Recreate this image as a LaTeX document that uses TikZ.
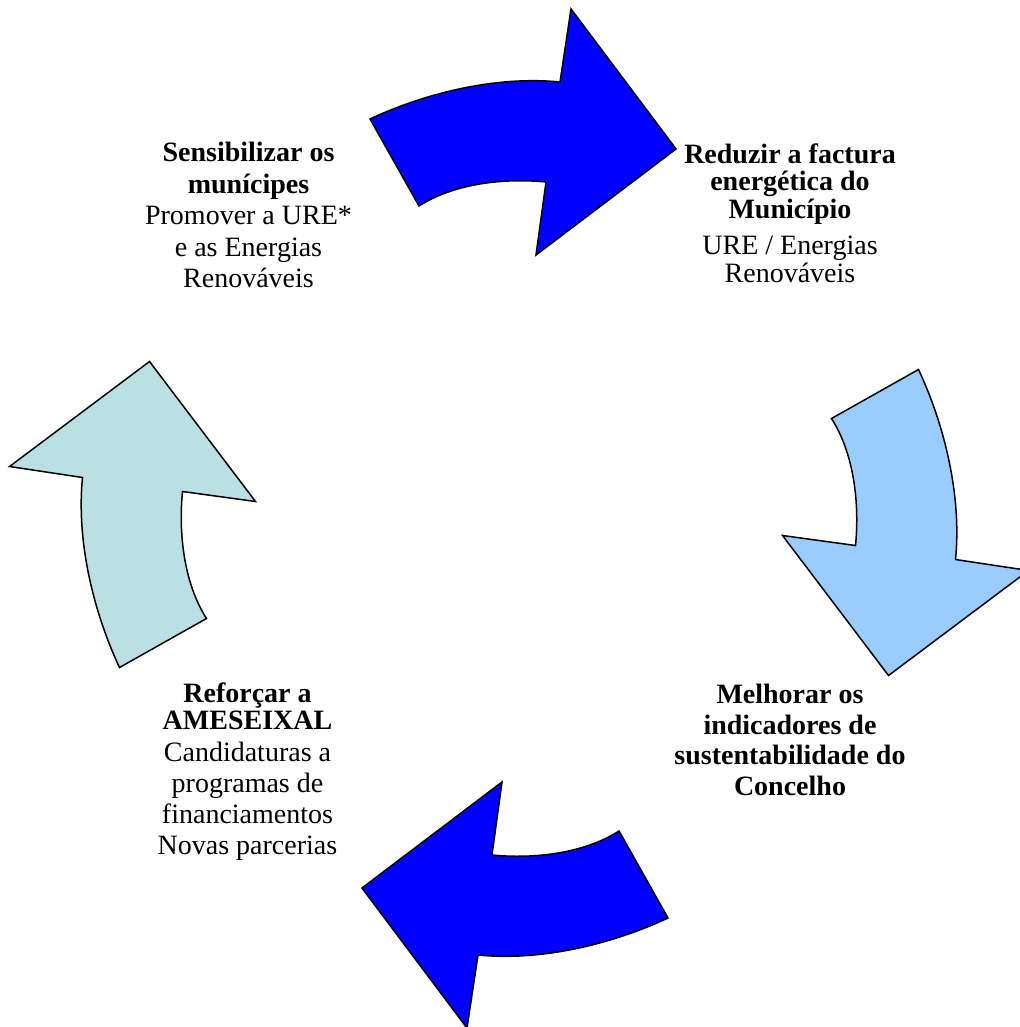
\documentclass[tikz,border=0pt]{standalone}
\usepackage{fontspec}
\setmainfont{Liberation Serif}
\definecolor{arrowblue}{RGB}{0,0,255}
\definecolor{arrowlight}{RGB}{153,204,255}
\definecolor{arrowpale}{RGB}{187,224,227}
\newcommand{\cyclearrow}[1]{\draw[arrowshape,fill=#1] (370,119) .. controls (430,91) and (500,76) .. (560,82) -- (571,9) -- (676,149) -- (536,255) -- (546,182) .. controls (505,178) and (455,183) .. (419,206) -- cycle;}
\tikzset{
  arrowshape/.style={draw=black,line width=0.75pt,line join=miter},
  label/.style={align=center,inner sep=0pt,anchor=north},
}
\begin{document}
\begin{tikzpicture}[x=0.5pt,y=-0.5pt]
\useasboundingbox (0,0) rectangle (1020,1027);
\begin{scope}
\cyclearrow{arrowblue}
\end{scope}
\begin{scope}[rotate around={-90:(519,518.5)}]
\cyclearrow{arrowlight}
\end{scope}
\begin{scope}[rotate around={180:(519,518.5)}]
\cyclearrow{arrowblue}
\end{scope}
\begin{scope}[rotate around={90:(519,518.5)}]
\cyclearrow{arrowpale}
\end{scope}
\node[label,font=\fontsize{14}{15.75}\selectfont] (t1) at (248.5,142) {\textbf{Sensibilizar os}\\\textbf{munícipes}\\Promover a URE*\\e as Energias\\Renováveis};
\node[label,font=\fontsize{14}{13.75}\selectfont] (t2) at (790,143) {\textbf{Reduzir a factura}\\\textbf{energética do}\\\textbf{Município}\\[4.5pt]URE / Energias\\Renováveis};
\node[label,font=\fontsize{14}{15.25}\selectfont] (t3) at (790,684) {\textbf{Melhorar os}\\\textbf{indicadores de}\\\textbf{sustentabilidade do}\\\textbf{Concelho}};
\node[label,font=\fontsize{14}{15.5}\selectfont] (t4) at (247.5,682) {\textbf{Reforçar a}\\[-2pt]\textbf{AMESEIXAL}\\[0.5pt]Candidaturas a\\programas de\\financiamentos\\Novas parcerias};
\end{tikzpicture}
\end{document}
